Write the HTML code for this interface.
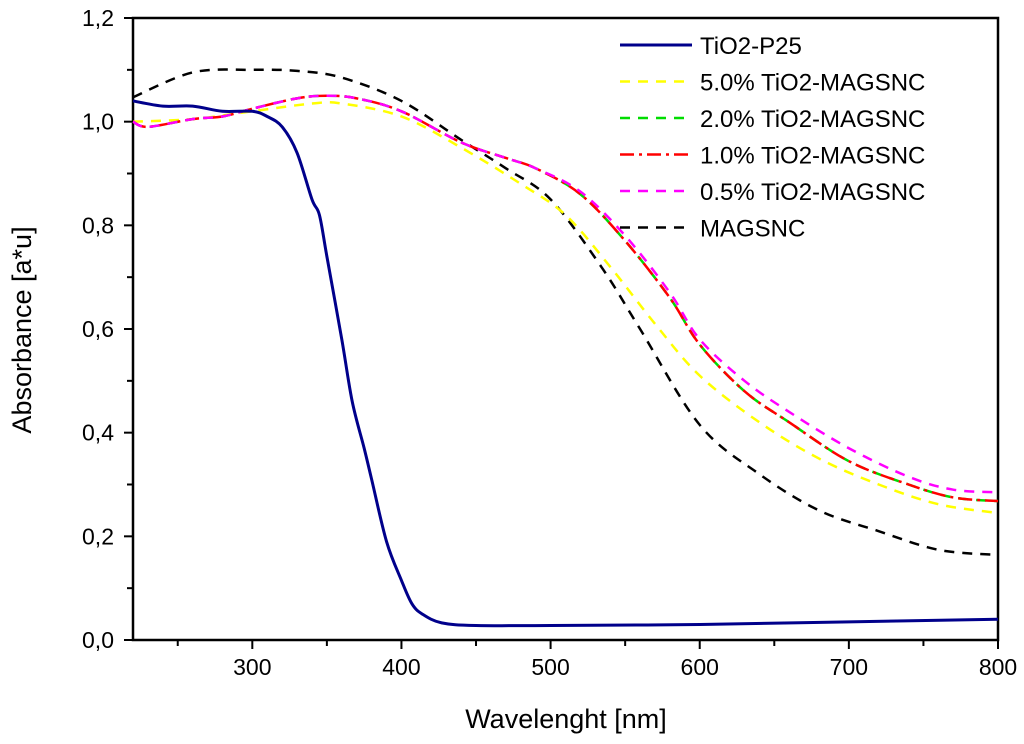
<!DOCTYPE html>
<html><head><meta charset="utf-8"><style>
html,body{margin:0;padding:0;background:#fff;}
svg{display:block;font-family:"Liberation Sans",Arial,sans-serif;}
</style></head><body>
<svg id="chart" width="1024" height="744" viewBox="0 0 1024 744">
<g id="axes"></g>
<g id="series"></g>
<g id="legend"></g>
<text x="566" y="728" font-size="27" text-anchor="middle">Wavelenght [nm]</text>
<text transform="translate(31,330) rotate(-90)" font-size="27" text-anchor="middle">Absorbance [a*u]</text>
</svg>
<script>
const xTicks=[300,400,500,600,700,800];
const yTicks=[0,0.2,0.4,0.6,0.8,1.0,1.2];
const yTickLabels=["0,0","0,2","0,4","0,6","0,8","1,0","1,2"];
const p25X=[220,240,260,280,300,310,320,330,340,345,350,360,367,375,380,390,400,407,414,427,450,500,600,700,800];
const p25Y=[1.04,1.03,1.03,1.02,1.02,1.01,0.99,0.94,0.85,0.82,0.74,0.58,0.46,0.37,0.31,0.19,0.115,0.07,0.05,0.033,0.028,0.028,0.03,0.035,0.04];
const y5X=[220,260,300,340,360,400,440,480,510,540,570,600,640,680,720,760,800];
const y5Y=[1.0,1.005,1.02,1.035,1.035,1.01,0.95,0.88,0.82,0.72,0.61,0.51,0.42,0.35,0.3,0.262,0.245];
const midX=[220,230,260,280,300,330,350,370,400,440,470,490,520,550,580,600,630,660,700,740,770,800];
const y2Y=[1.0,0.99,1.005,1.01,1.025,1.045,1.05,1.045,1.02,0.96,0.93,0.91,0.86,0.77,0.66,0.57,0.48,0.42,0.345,0.3,0.275,0.268];
const y1Y=[1.0,0.99,1.005,1.01,1.025,1.045,1.05,1.045,1.02,0.96,0.93,0.91,0.86,0.77,0.66,0.57,0.48,0.42,0.345,0.3,0.275,0.268];
const y05Y=[1.0,0.99,1.005,1.01,1.025,1.045,1.05,1.045,1.02,0.96,0.93,0.91,0.865,0.78,0.67,0.58,0.5,0.44,0.37,0.315,0.29,0.285];
const magX=[220,260,300,330,360,400,440,470,500,534,560,600,640,680,720,760,800];
const magY=[1.047,1.095,1.1,1.098,1.085,1.04,0.965,0.91,0.85,0.72,0.6,0.415,0.32,0.25,0.21,0.174,0.164];
const seriesNames=["TiO2-P25","5.0% TiO2-MAGSNC","2.0% TiO2-MAGSNC","1.0% TiO2-MAGSNC","0.5% TiO2-MAGSNC","MAGSNC"];

const NS="http://www.w3.org/2000/svg";
const L=133,R=998,T=18,B=640,X0=220,X1=800,Y0=0,Y1=1.2;
const sx=v=>L+(v-X0)/(X1-X0)*(R-L);
const sy=v=>B-(v-Y0)/(Y1-Y0)*(B-T);
function mk(tag,attrs,parent){const e=document.createElementNS(NS,tag);for(const k in attrs)e.setAttribute(k,attrs[k]);parent.appendChild(e);return e;}
const axes=document.getElementById('axes');
const fr=mk('rect',{x:L,y:T,width:R-L,height:B-T,fill:'none',stroke:'#000','stroke-width':2.5},axes);


for(let v=250;v<=800;v+=50){
  const major=v%100===0;
  const t=mk('line',{x1:sx(v),x2:sx(v),y1:B,y2:B+(major?9:6),stroke:'#000','stroke-width':2},axes);
  
  
}
xTicks.forEach(v=>{
  const t=mk('text',{x:sx(v),y:B+35,'font-size':23,'text-anchor':'middle'},axes);
  t.textContent=v;
  
  
});
for(let i=0;i<=12;i++){
  const v=i*0.1,major=i%2===0;
  const t=mk('line',{x1:L-(major?9:6),x2:L,y1:sy(v),y2:sy(v),stroke:'#000','stroke-width':2},axes);
  
  
}
yTicks.forEach((v,i)=>{
  const t=mk('text',{x:L-19,y:sy(v)+8,'font-size':23,'text-anchor':'end'},axes);
  t.textContent=yTickLabels[i];
  
  
});
function pathD(xs,ys){
  const p=xs.map((x,i)=>[sx(x),sy(ys[i])]);
  let d='M'+p[0][0]+','+p[0][1];
  for(let i=0;i<p.length-1;i++){
    const p0=p[Math.max(0,i-1)],p1=p[i],p2=p[i+1],p3=p[Math.min(p.length-1,i+2)];
    const c1=[p1[0]+(p2[0]-p0[0])/6,p1[1]+(p2[1]-p0[1])/6];
    const c2=[p2[0]-(p3[0]-p1[0])/6,p2[1]-(p3[1]-p1[1])/6];
    d+=' C'+c1+' '+c2+' '+p2;
  }
  return d;
}
const styles=[
 {c:'#00008b',dash:'',w:3},
 {c:'#ffff00',dash:'10,8',w:2.5},
 {c:'#00dd00',dash:'10,8',w:2.5},
 {c:'#ff0000',dash:'14,5,3,5',w:2.5},
 {c:'#ff00ff',dash:'10,8',w:2.5},
 {c:'#000000',dash:'10,8',w:2.5}];
const data=[[p25X,p25Y],[y5X,y5Y],[midX,y2Y],[midX,y1Y],[midX,y05Y],[magX,magY]];
const sg=document.getElementById('series');
const order=[5,1,2,3,4,0];
order.forEach(i=>{
  const s=styles[i];
  const e=mk('path',{d:pathD(data[i][0],data[i][1]),fill:'none',stroke:s.c,'stroke-width':s.w,'stroke-dasharray':s.dash,'stroke-linejoin':'round'},sg);
  
  
});
const lg=document.getElementById('legend');
seriesNames.forEach((n,i)=>{
  const y=45+i*36.5,s=styles[i];
  const ln=mk('line',{x1:620,x2:692,y1:y,y2:y,stroke:s.c,'stroke-width':s.w,'stroke-dasharray':s.dash},lg);
  
  
  const t=mk('text',{x:700,y:y+9,'font-size':24},lg);
  t.textContent=n;
  
  
});
</script>
</body></html>
